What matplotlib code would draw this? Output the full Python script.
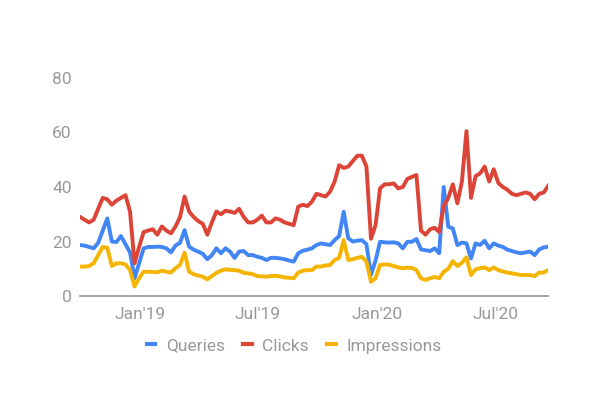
import matplotlib
matplotlib.use('Agg')
import matplotlib.pyplot as plt
import pandas as pd

plt.rcParams['font.family'] = ['Roboto', 'DejaVu Sans']

series_names = ["Queries", "Clicks", "Impressions"]
series_colors = ["#4285F4", "#DB4437", "#F4B400"]

queries = [18.7, 18.5, 18, 17.5, 19.5, 24, 28.5, 20, 19.8, 22, 19, 16, 6.5, 12, 17.5, 18, 18, 18.1, 18, 17.5,
           16, 18.5, 19.5, 24.2, 18.1, 17, 16.3, 15.5, 13.5, 15, 17.5, 15.7, 17.5, 16.3, 14, 16.3, 16.5, 15, 15, 14.4,
           14, 13.2, 14, 14, 13.8, 13.5, 13, 12.6, 15.7, 16.6, 17, 17.5, 18.7, 19.3, 19, 18.7, 20.5, 22, 30.9, 21.2,
           20, 20.3, 20.5, 19, 7.7, 13, 19.9, 19.7, 19.6, 19.7, 19.3, 17.5, 19.9, 19.9, 20.9, 17.1, 16.8, 16.5, 17.5, 15.7,
           40, 25.4, 24.8, 18.7, 19.6, 19.3, 13.8, 19.3, 18.7, 20.3, 17.5, 19.3, 18.5, 18, 17, 16.5, 16, 15.7, 16, 16.3,
           15, 17.1, 17.8, 18.1]

clicks = [29, 28, 27, 28, 32, 36, 35.5, 33.5, 35, 36, 37, 31, 12, 18, 23.5, 24, 24.5, 22.5, 25.5, 24,
          23, 25.5, 29, 36.5, 31, 29, 27.5, 26.5, 22.5, 27, 31, 30, 31.3, 31, 30.5, 32, 29, 27, 27, 28,
          29.5, 27, 27, 28.5, 28, 27, 26.5, 26, 32.8, 33.5, 33, 34.6, 37.5, 37, 36.5, 38.3, 42, 48, 47, 47.5,
          49.5, 51.5, 51.5, 47.5, 21, 26, 39.5, 41, 41, 41.3, 39.5, 40, 43, 43.7, 44.4, 24, 22.5, 24.5, 25, 23.5,
          33, 36, 41, 34, 42, 60.5, 36, 44, 45, 47.5, 42, 46.5, 41.5, 40, 39, 37.5, 37, 37.5, 38, 37.5,
          35.5, 37.5, 38, 40.5]

impressions = [10.8, 10.8, 11, 12, 15, 18, 17.7, 11, 12, 12, 11.6, 9.5, 3.5, 6.5, 8.9, 8.9, 8.8, 8.7, 9.3, 8.9,
               8.6, 10.2, 11.4, 15.9, 8.9, 8, 7.5, 7.1, 6.1, 7.3, 8.5, 9.3, 9.8, 9.6, 9.5, 9.3, 8.5, 8.3, 8, 7.3,
               7.2, 7.1, 7.3, 7.4, 7.2, 6.8, 6.7, 6.5, 8.6, 9.3, 9.5, 9.5, 10.8, 10.8, 11.2, 11.4, 13.2, 14, 20.5, 13.2,
               13.5, 14, 14.4, 12.6, 5.2, 6.5, 11.4, 11.6, 11.5, 11, 10.5, 10.2, 10.4, 10.3, 9.5, 6.5, 5.9, 6.5, 7, 6.5,
               8.9, 10, 12.8, 11, 12.2, 14.2, 7.7, 9.8, 10.2, 10.5, 9.5, 10.5, 9.5, 9, 8.6, 8.3, 8, 7.7, 7.7, 7.7,
               7.3, 8.6, 8.6, 9.5]

start_date = "2018-09-30"
dates = pd.date_range(start_date, periods=len(queries), freq="7D")

y_ticks = [0, 20, 40, 60, 80]
x_tick_dates = ["2019-01-01", "2019-07-01", "2020-01-01", "2020-07-01"]
x_tick_labels = ["Jan'19", "Jul'19", "Jan'20", "Jul'20"]

text_color = "#999999"

fig = plt.figure(figsize=(6.15, 3.99), dpi=100)
ax = fig.add_axes([80 / 615, 103 / 399, 468.3 / 615, 218 / 399])

handles = []
for name, vals, col in zip(series_names, [queries, clicks, impressions], series_colors):
    h, = ax.plot(dates, vals, color=col, lw=2.8, label=name, solid_joinstyle='round', zorder=3)
    handles.append(h)

ax.set_ylim(0, 80)
ax.set_xlim(dates[0], dates[-1])
ax.axhline(0, color="#9e9e9e", lw=1.3, zorder=2, clip_on=False)

for s in ax.spines.values():
    s.set_visible(False)

ax.set_yticks(y_ticks)
ax.set_yticklabels([str(v) for v in y_ticks])
ax.set_xticks(pd.to_datetime(x_tick_dates))
ax.set_xticklabels(x_tick_labels)
ax.tick_params(axis='both', length=0, labelsize=12.5, colors=text_color)
ax.tick_params(axis='y', pad=6)
ax.tick_params(axis='x', pad=8)

leg = fig.legend(handles, series_names, loc='center', bbox_to_anchor=(294 / 615, 1 - 346 / 399),
                 ncol=3, frameon=False, handlelength=0.5, handletextpad=0.6, columnspacing=1.05,
                 fontsize=12.5, labelcolor=text_color)
for line in leg.get_lines():
    line.set_linewidth(3)

fig.savefig("out.png", dpi=100)
